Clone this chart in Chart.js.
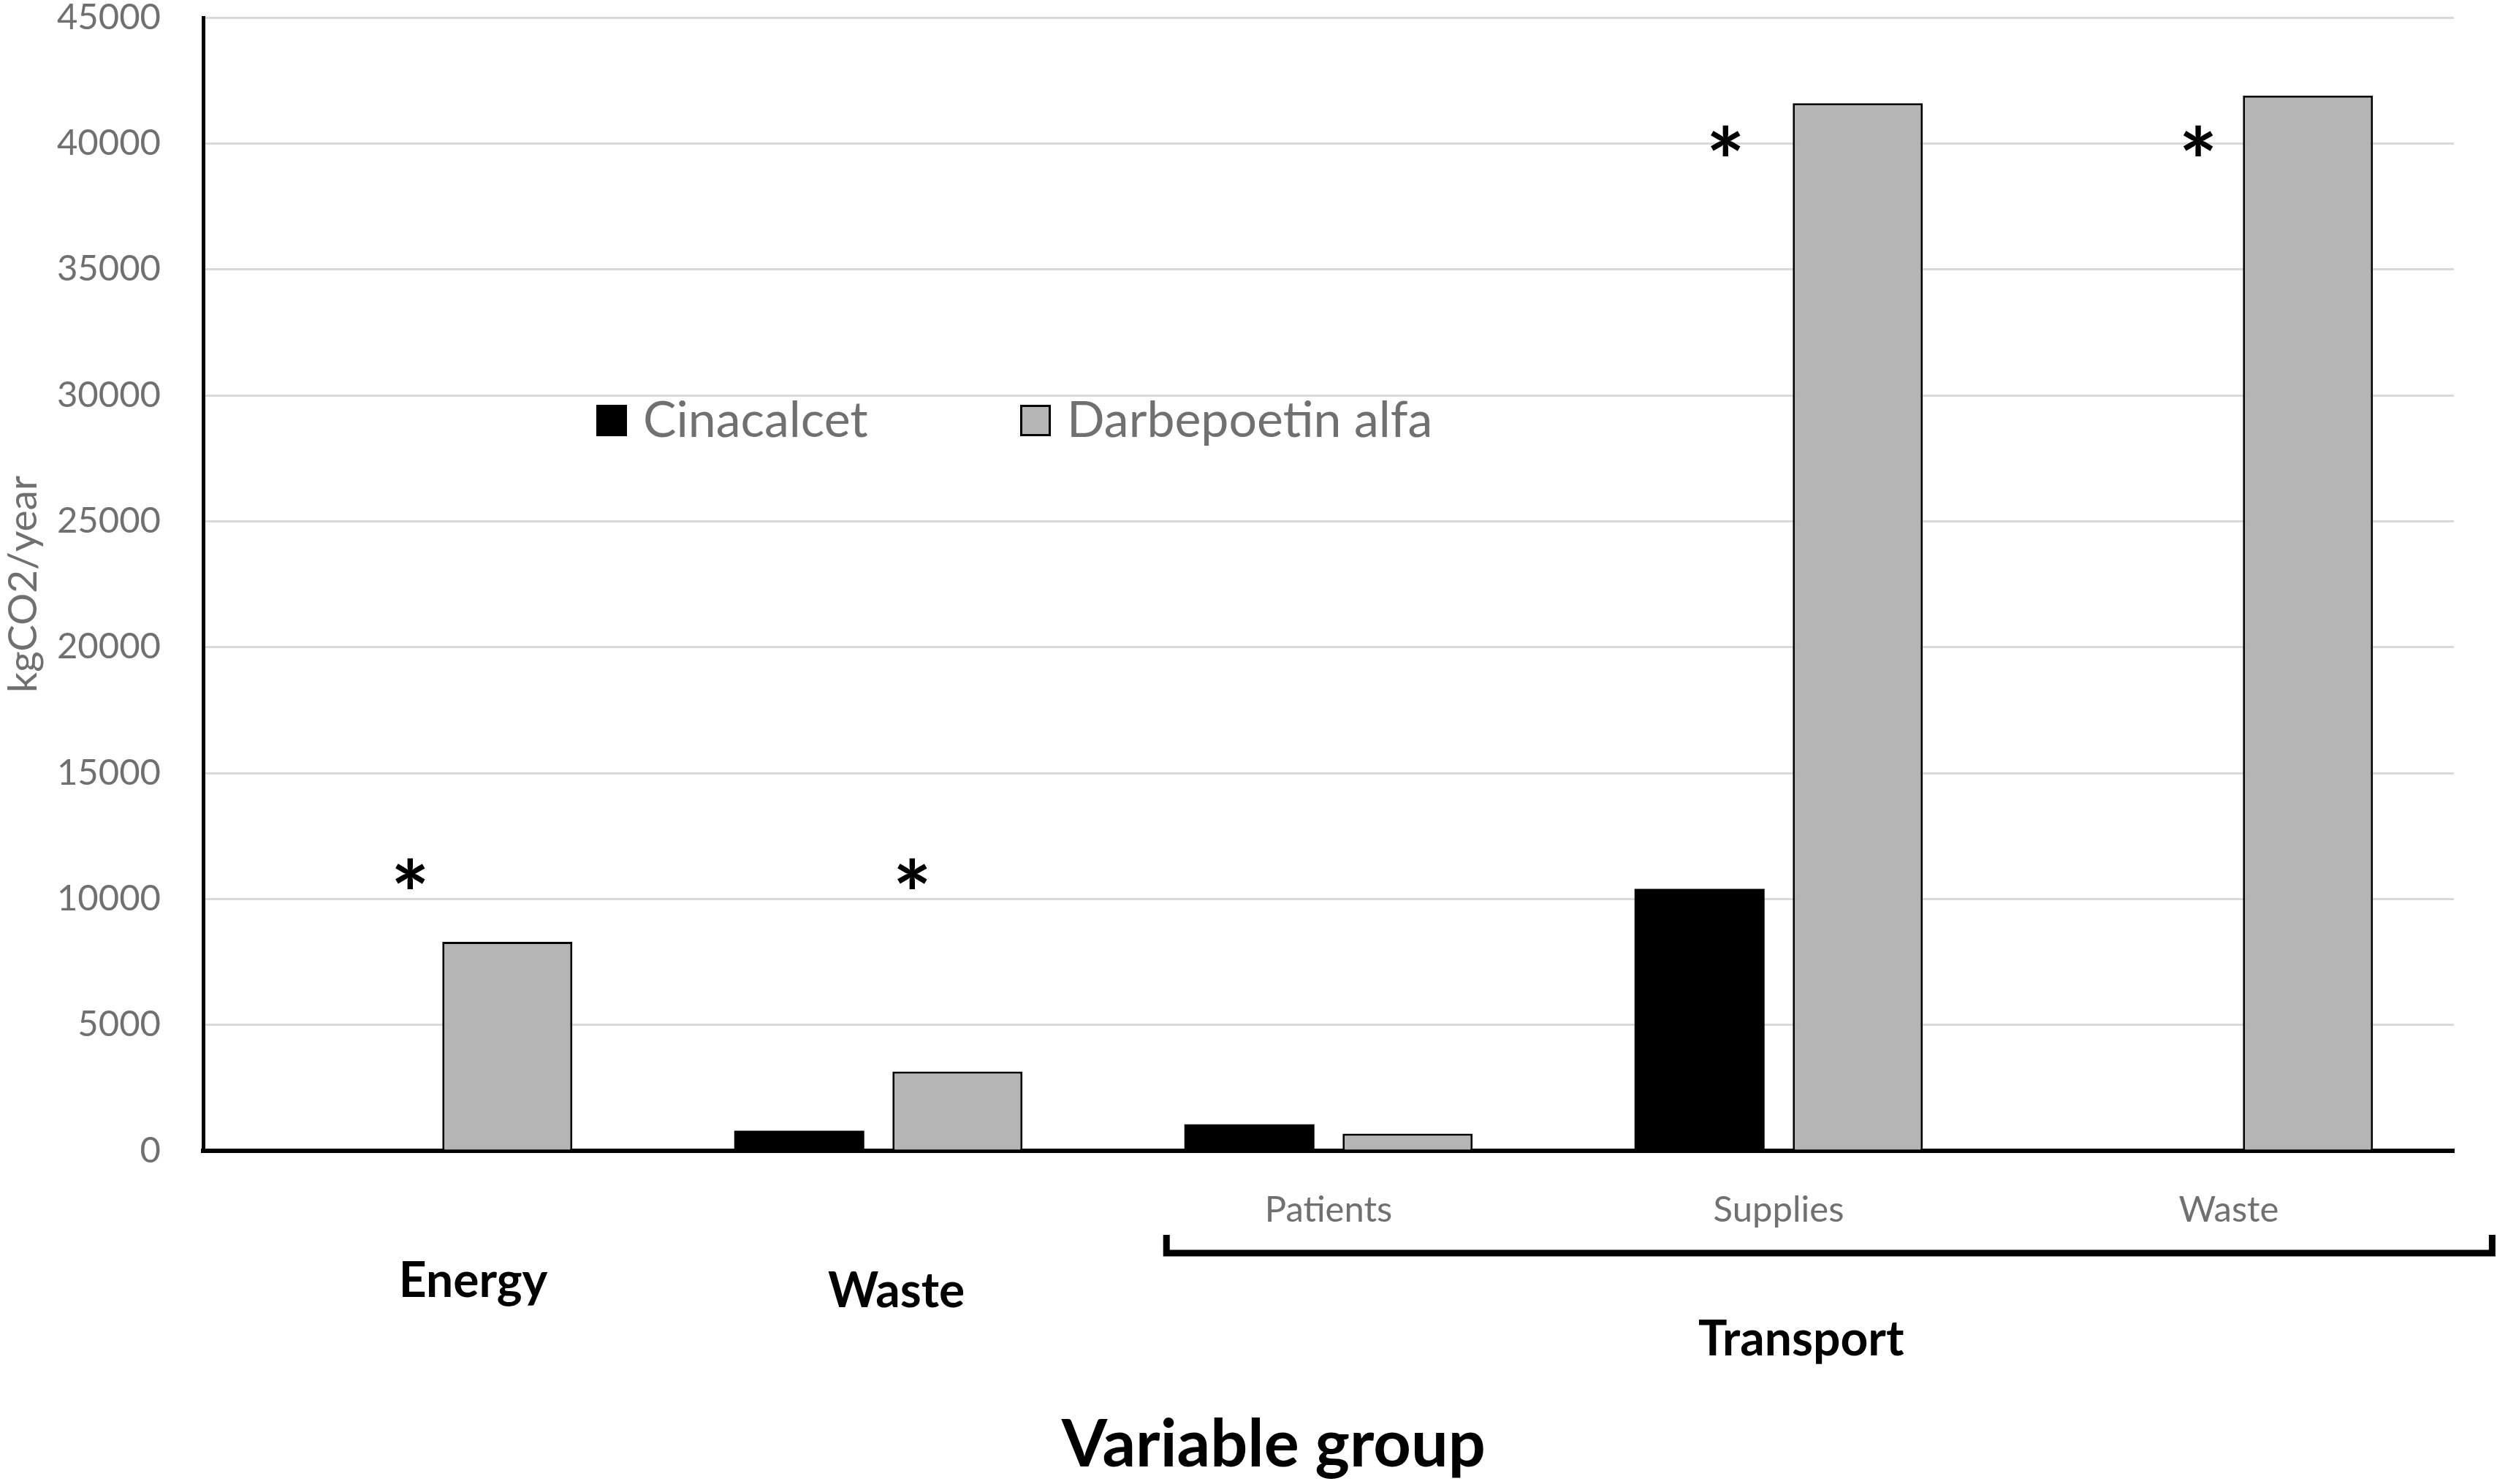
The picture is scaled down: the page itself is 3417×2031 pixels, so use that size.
<!DOCTYPE html>
<html>
<head>
<meta charset="utf-8">
<script src="https://cdn.jsdelivr.net/npm/chart.js@4.4.1/dist/chart.umd.min.js"></script>
<style>
    html, body { margin: 0; padding: 0; background: #fff; }
    #contenedor { width: 3417px; height: 2031px; position: relative; }
</style>
</head>
<body>
<div id="contenedor"><canvas id="grafica"></canvas></div>
<script>
// Datos
const categories = ['Energy', 'Waste', 'Patients', 'Supplies', 'Waste'];
const xTickLabels = ['', '', 'Patients', 'Supplies', 'Waste'];
const groupLabels = ['Energy', 'Waste', 'Transport'];
const seriesNames = ['Cinacalcet', 'Darbepoetin alfa'];
const cinacalcet = [0, 800, 1050, 10400, 0];
const darbepoetin = [8300, 3150, 680, 41600, 41900];
const asteriskCategory = [0, 1, 3, 4];
const asteriskValue = [11000, 11000, 40100, 40100];

const GRIS_TEXTO = '#707070';

// posiciones de las anotaciones (unidades de categoría / px bajo el eje)
const layoutNotas = {
    asteriskOffset: [-0.04, 0.075, -0.118, -0.068],
    groupX: [0.1, 1.04, 3.05],
    groupBaseline: [200, 214, 280],
    bracketFrom: 1.64,
    bracketTo: 4.585,
    bracketY: 140,
    bracketRise: 25,
    legendX: [816, 1396],
    legendY: 575,
    titleX: 1.878,
    titleBaseline: 2007
};

const notasPlugin = {
    id: 'notas',
    afterDraw(chart) {
        const { ctx, scales: { x, y }, chartArea } = chart;
        const base = chartArea.bottom;
        ctx.save();

        // leyenda dentro del área
        chart.data.datasets.forEach((ds, i) => {
            const lx = layoutNotas.legendX[i];
            const ly = layoutNotas.legendY;
            ctx.fillStyle = ds.backgroundColor;
            ctx.fillRect(lx, ly - 21, 42, 43);
            if (ds.borderWidth) {
                ctx.lineWidth = 3;
                ctx.strokeStyle = ds.borderColor;
                ctx.strokeRect(lx + 1.5, ly - 19.5, 39, 40);
            }
            ctx.fillStyle = GRIS_TEXTO;
            ctx.font = '68px Lato';
            ctx.textAlign = 'left';
            ctx.textBaseline = 'alphabetic';
            ctx.fillText(ds.label, lx + 64, ly + 23);
        });

        // asteriscos
        ctx.fillStyle = '#000';
        ctx.font = 'bold 125px Lato';
        ctx.textAlign = 'center';
        ctx.textBaseline = 'alphabetic';
        const m = ctx.measureText('*');
        asteriskCategory.forEach((c, i) => {
            const px = x.getPixelForValue(c + layoutNotas.asteriskOffset[i]);
            const py = y.getPixelForValue(asteriskValue[i]);
            ctx.fillText('*', px, py + (m.actualBoundingBoxAscent - m.actualBoundingBoxDescent) / 2);
        });

        // etiquetas de grupo
        ctx.font = 'bold 66px Lato';
        groupLabels.forEach((g, i) => {
            ctx.fillText(g, x.getPixelForValue(layoutNotas.groupX[i]), base + layoutNotas.groupBaseline[i]);
        });

        // corchete de Transport
        const x0 = x.getPixelForValue(layoutNotas.bracketFrom);
        const x1 = x.getPixelForValue(layoutNotas.bracketTo);
        const by = base + layoutNotas.bracketY;
        ctx.strokeStyle = '#000';
        ctx.lineWidth = 9;
        ctx.lineJoin = 'miter';
        ctx.beginPath();
        ctx.moveTo(x0, by - layoutNotas.bracketRise);
        ctx.lineTo(x0, by);
        ctx.lineTo(x1, by);
        ctx.lineTo(x1, by - layoutNotas.bracketRise);
        ctx.stroke();

        // título del eje X
        ctx.font = 'bold 90px Lato';
        ctx.fillText('Variable group', x.getPixelForValue(layoutNotas.titleX), layoutNotas.titleBaseline);

        ctx.restore();
    }
};

document.addEventListener('DOMContentLoaded', () => {
    const ctx = document.getElementById('grafica').getContext('2d');

    new Chart(ctx, {
        type: 'bar',
        data: {
            labels: categories,
            datasets: [{
                label: seriesNames[0],
                data: cinacalcet,
                backgroundColor: '#000000',
                borderColor: '#000000',
                borderWidth: 0
            }, {
                label: seriesNames[1],
                data: darbepoetin,
                backgroundColor: '#b5b5b5',
                borderColor: '#000000',
                borderWidth: 3
            }]
        },
        options: {
            responsive: true,
            maintainAspectRatio: false,
            devicePixelRatio: 1,
            animation: false,
            categoryPercentage: 0.703,
            barPercentage: 0.822,
            layout: { padding: { top: 24, right: 59, left: 0, bottom: 0 } },
            plugins: {
                legend: { display: false },
                tooltip: { enabled: false }
            },
            scales: {
                x: {
                    grid: { display: false, drawTicks: false },
                    border: { display: true, color: '#000', width: 6 },
                    ticks: {
                        autoSkip: false,
                        maxRotation: 0,
                        padding: 52,
                        color: GRIS_TEXTO,
                        font: { family: 'Lato', size: 49, lineHeight: 1.2 },
                        callback: (v, i) => xTickLabels[i]
                    },
                    afterFit: (scale) => { scale.height = 456; }
                },
                y: {
                    min: 0,
                    max: 45000,
                    grid: { color: '#d9d9d9', lineWidth: 3, drawTicks: false },
                    border: { display: true, color: '#000', width: 5 },
                    ticks: {
                        stepSize: 5000,
                        padding: 58,
                        color: GRIS_TEXTO,
                        font: { family: 'Lato', size: 49, lineHeight: 1 },
                        callback: (v) => String(v)
                    },
                    title: {
                        display: true,
                        text: 'kgCO2/year',
                        color: GRIS_TEXTO,
                        font: { family: 'Lato', size: 55, lineHeight: 1 },
                        padding: { top: 5, bottom: 0 }
                    },
                    afterFit: (scale) => {
                        scale.width = 278;
                        scale.paddingTop = 0;
                        scale.paddingBottom = 0;
                    }
                }
            }
        },
        plugins: [notasPlugin]
    });
});
</script>
</body>
</html>
